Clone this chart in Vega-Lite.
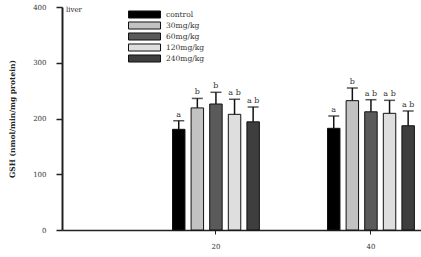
{
  "$schema": "https://vega.github.io/schema/vega-lite/v6.json",
  "width": 359,
  "height": 223,
  "autosize": "none",
  "padding": {"left": 62, "top": 7, "right": 0, "bottom": 27},
  "background": "white",
  "title": {"text": "liver", "anchor": "start", "frame": "group", "orient": "top", "dx": 4, "dy": 14, "fontSize": 7, "font": "DejaVu Serif", "fontWeight": "normal", "color": "#222"},
  "config": {"view": {"stroke": null}},
  "data": {"values": [
    {"day": "20", "dose": "control", "mean": 180.6, "top": 196, "letter": "a"},
    {"day": "20", "dose": "30mg/kg", "mean": 219, "top": 236, "letter": "b"},
    {"day": "20", "dose": "60mg/kg", "mean": 226, "top": 247, "letter": "b"},
    {"day": "20", "dose": "120mg/kg", "mean": 207.5, "top": 234.5, "letter": "a b"},
    {"day": "20", "dose": "240mg/kg", "mean": 194, "top": 220.6, "letter": "a b"},
    {"day": "40", "dose": "control", "mean": 182.4, "top": 204.5, "letter": "a"},
    {"day": "40", "dose": "30mg/kg", "mean": 232, "top": 254.7, "letter": "b"},
    {"day": "40", "dose": "60mg/kg", "mean": 212, "top": 233.7, "letter": "a b"},
    {"day": "40", "dose": "120mg/kg", "mean": 209.3, "top": 232.6, "letter": "a b"},
    {"day": "40", "dose": "240mg/kg", "mean": 187, "top": 213.5, "letter": "a b"}
  ]},
  "encoding": {
    "x": {"field": "day", "type": "nominal",
      "scale": {"domain": ["20", "40"], "paddingInner": 0.4, "paddingOuter": 0.358, "align": 0.968},
      "axis": {"title": null, "labelAngle": 0, "domainColor": "#222", "domainWidth": 1.5, "tickColor": "#222", "tickSize": 4, "tickWidth": 1, "labelFont": "DejaVu Serif", "labelFontSize": 7, "labelColor": "#333", "labelPadding": 8}},
    "xOffset": {"field": "dose", "type": "nominal",
      "scale": {"domain": ["control", "30mg/kg", "60mg/kg", "120mg/kg", "240mg/kg"], "paddingInner": 0.33, "paddingOuter": 0.165}}
  },
  "layer": [
    {
      "mark": {"type": "bar", "stroke": "#111", "strokeWidth": 1},
      "encoding": {
        "y": {"field": "mean", "type": "quantitative",
          "scale": {"domain": [0, 400]},
          "axis": {"title": "GSH (nmol/min/mg protein)", "values": [0, 100, 200, 300, 400], "grid": false, "domainColor": "#222", "domainWidth": 2, "tickColor": "#222", "tickSize": 6, "tickWidth": 1.5, "labelFont": "DejaVu Serif", "labelFontSize": 7, "labelColor": "#333", "labelPadding": 10, "titleFont": "DejaVu Serif", "titleFontSize": 7.5, "titleFontWeight": "bold", "titleColor": "#222", "titlePadding": 16}},
        "color": {"field": "dose", "type": "nominal",
          "scale": {"domain": ["control", "30mg/kg", "60mg/kg", "120mg/kg", "240mg/kg"], "range": ["#000000", "#c2c2c2", "#5a5a5a", "#dedede", "#3e3e3e"]},
          "legend": {"title": null, "orient": "none", "legendX": 66, "legendY": 3, "symbolType": "M-1,-0.22H1V0.22H-1Z", "symbolSize": 1024, "symbolStrokeColor": "#111", "symbolStrokeWidth": 1, "clipHeight": 9, "rowPadding": 2, "labelOffset": 5, "labelFont": "DejaVu Serif", "labelFontSize": 7.5, "labelColor": "#333"}}
      }
    },
    {
      "mark": {"type": "rule", "color": "#111", "strokeWidth": 1.5},
      "encoding": {"y": {"field": "mean", "type": "quantitative"}, "y2": {"field": "top"}}
    },
    {
      "mark": {"type": "tick", "color": "#111", "thickness": 1.5, "size": 11, "orient": "horizontal"},
      "encoding": {"y": {"field": "top", "type": "quantitative"}}
    },
    {
      "mark": {"type": "text", "dy": -2, "baseline": "bottom", "font": "DejaVu Serif", "fontSize": 8, "color": "#333"},
      "encoding": {"y": {"field": "top", "type": "quantitative"}, "text": {"field": "letter"}}
    }
  ]
}
